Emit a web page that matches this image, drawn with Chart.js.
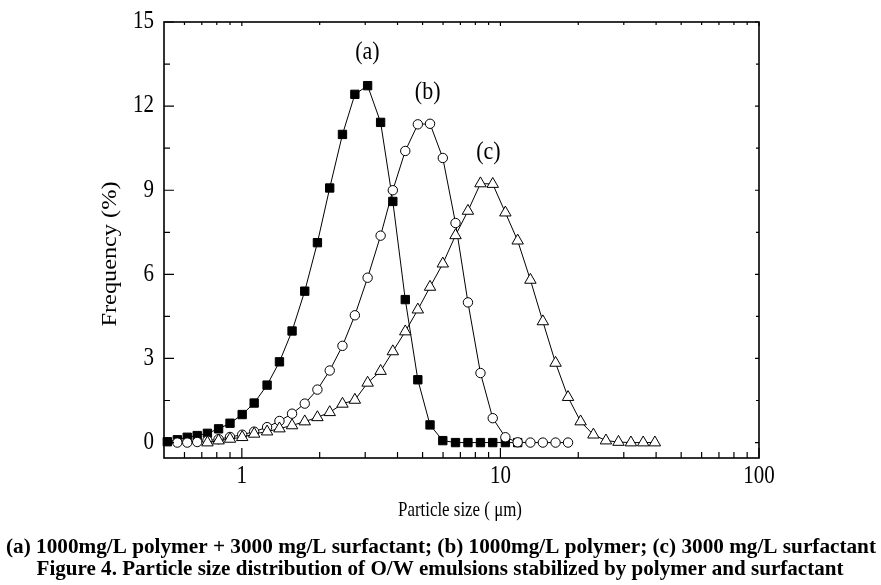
<!DOCTYPE html>
<html lang="en">
  <head>
    <meta charset="UTF-8" />
    <title>Particle size distribution</title>
    <script src="https://cdn.jsdelivr.net/npm/chart.js"></script>
    <style>
      * {
        box-sizing: border-box;
        padding: 0;
        margin: 0;
      }
      body {
        background: #fff;
      }
      .wrap {
        width: 881px;
        height: 585px;
        position: relative;
      }
    </style>
  </head>
  <body>
    <div class="wrap">
      <canvas id="myChart"></canvas>
    </div>
  </body>
  <script>
    // size bins (um), shared by the three curves
    const sizes = [
      0.515, 0.563, 0.615, 0.672, 0.736, 0.813, 0.9, 1.003, 1.116, 1.252,
      1.398, 1.564, 1.751, 1.96, 2.187, 2.45, 2.736, 3.065, 3.441, 3.836,
      4.286, 4.793, 5.343, 5.987, 6.705, 7.489, 8.372, 9.339, 10.45, 11.66,
      13.06, 14.59, 16.34, 18.26, 20.42, 22.89, 25.59, 28.61, 31.96, 35.66,
      39.57,
    ];

    // (a) polymer + surfactant, starts at bin 0
    const startA = 0;
    const freqA = [
      0.03, 0.1, 0.19, 0.25, 0.33, 0.49, 0.69, 1.0, 1.41, 2.05, 2.88, 3.98,
      5.4, 7.13, 9.08, 10.99, 12.42, 12.73, 11.42, 8.6, 5.1, 2.24, 0.63, 0.07,
      0, 0, 0, 0, 0, 0,
    ];
    // (b) polymer, starts at bin 1
    const startB = 1;
    const freqB = [
      0, 0, 0.02, 0.07, 0.12, 0.2, 0.28, 0.39, 0.55, 0.77, 1.03, 1.39, 1.89,
      2.57, 3.45, 4.54, 5.88, 7.38, 9.0, 10.4, 11.35, 11.37, 10.15, 7.83, 5.0,
      2.48, 0.87, 0.19, 0.01, 0, 0, 0, 0,
    ];
    // (c) surfactant, starts at bin 4
    const startC = 4;
    const freqC = [
      0, 0.07, 0.13, 0.19, 0.31, 0.39, 0.5, 0.61, 0.75, 0.9, 1.08, 1.38, 1.52,
      2.13, 2.55, 3.25, 3.96, 4.74, 5.55, 6.38, 7.39, 8.26, 9.24, 9.22, 8.2,
      7.2, 5.8, 4.32, 2.84, 1.62, 0.75, 0.28, 0.07, 0.02, 0, 0, 0,
    ];

    const yTicks = [0, 3, 6, 9, 12, 15];
    const yMinor = [1.5, 4.5, 7.5, 10.5, 13.5];
    const xTicks = [1, 10, 100];
    const xMinor = [
      0.6, 0.7, 0.8, 0.9, 2, 3, 4, 5, 6, 7, 8, 9, 20, 30, 40, 50, 60, 70, 80,
      90,
    ];

    // curve labels, placed in data units
    const notes = [
      { text: "(a)", x: 3.06, y: 13.9 },
      { text: "(b)", x: 5.23, y: 12.5 },
      { text: "(c)", x: 8.99, y: 10.35 },
    ];

    const xTitle = "Particle size ( \u03bcm)";
    const yTitle = "Frequency (%)";
    const caption1 =
      "(a) 1000mg/L polymer + 3000 mg/L surfactant; (b) 1000mg/L polymer; (c) 3000 mg/L surfactant";
    const caption2 =
      "Figure 4. Particle size distribution of O/W emulsions stabilized by polymer and surfactant";

    const toPoints = (vals, start) =>
      vals.map((v, i) => ({ x: sizes[i + start], y: v }));

    const SERIF = '"Liberation Serif", "Times New Roman", serif';
    const STRETCH = 1.15; // the figure is a bit taller than wide

    function text(ctx, s, x, y, size, opts = {}) {
      ctx.save();
      ctx.font = (opts.bold ? "bold " : "") + size + "px " + SERIF;
      ctx.fillStyle = "#000";
      ctx.textAlign = opts.align || "center";
      ctx.textBaseline = "middle";
      ctx.translate(x, y);
      if (opts.rot) {
        ctx.rotate(opts.rot);
        const sx = opts.width ? opts.width / ctx.measureText(s).width : STRETCH;
        ctx.scale(sx, 1);
      } else {
        const sx = opts.width ? opts.width / ctx.measureText(s).width : 1;
        ctx.scale(sx, STRETCH);
      }
      ctx.fillText(s, 0, 0);
      ctx.restore();
    }

    const decor = {
      id: "decor",
      afterDraw(chart) {
        const ctx = chart.ctx;
        const { left, right, top, bottom } = chart.chartArea;
        const xs = chart.scales.x;
        const ys = chart.scales.y;

        ctx.save();
        ctx.strokeStyle = "#000";
        ctx.lineWidth = 1.2;
        ctx.beginPath();
        yTicks.concat(yMinor).forEach((v) => {
          const p = ys.getPixelForValue(v);
          const big = yTicks.includes(v);
          ctx.moveTo(left, p);
          ctx.lineTo(left + (big ? 10 : 6), p);
          ctx.moveTo(right, p);
          ctx.lineTo(right - (big ? 4 : 3), p);
        });
        xTicks.concat(xMinor).forEach((v) => {
          const p = xs.getPixelForValue(v);
          const big = xTicks.includes(v);
          ctx.moveTo(p, bottom);
          ctx.lineTo(p, bottom - (big ? 10 : 6));
          ctx.moveTo(p, top);
          ctx.lineTo(p, top + (big ? 4 : 3));
        });
        ctx.stroke();

        ctx.lineWidth = 1.6;
        ctx.strokeRect(left, top, right - left, bottom - top);
        ctx.restore();

        yTicks.forEach((v) =>
          text(ctx, String(v), left - 10, ys.getPixelForValue(v), 21, {
            align: "right",
          })
        );
        xTicks.forEach((v) =>
          text(ctx, String(v), xs.getPixelForValue(v), bottom + 19, 21)
        );

        notes.forEach((n) =>
          text(ctx, n.text, xs.getPixelForValue(n.x), ys.getPixelForValue(n.y), 22)
        );

        text(ctx, yTitle, 110, 254, 21, { rot: -Math.PI / 2, width: 145 });
        text(ctx, xTitle, 460, 510, 19, { width: 124 });
        text(ctx, caption1, 441, 548, 18, { bold: true, width: 870 });
        text(ctx, caption2, 440, 570, 18, { bold: true, width: 807 });
      },
    };

    const line = {
      borderColor: "#000",
      borderWidth: 1,
      pointBorderColor: "#000",
      pointBorderWidth: 1,
      tension: 0,
      clip: false,
    };

    const ctx = document.getElementById("myChart").getContext("2d");
    const myChart = new Chart(ctx, {
      type: "line",
      data: {
        datasets: [
          {
            ...line,
            label: "(a)",
            data: toPoints(freqA, startA),
            pointStyle: "rect",
            pointRadius: 5.9,
            pointBackgroundColor: "#000",
            order: 3,
          },
          {
            ...line,
            label: "(b)",
            data: toPoints(freqB, startB),
            pointStyle: "circle",
            pointRadius: 4.7,
            pointBackgroundColor: "#fff",
            order: 2,
          },
          {
            ...line,
            label: "(c)",
            data: toPoints(freqC, startC),
            pointStyle: "triangle",
            pointRadius: 6.6,
            pointBackgroundColor: "#fff",
            order: 1,
          },
        ],
      },
      options: {
        responsive: true,
        maintainAspectRatio: false,
        animation: false,
        layout: {
          padding: { left: 164, right: 122, top: 22, bottom: 127 },
        },
        plugins: {
          legend: { display: false },
          tooltip: { enabled: false },
        },
        scales: {
          x: { type: "logarithmic", min: 0.5, max: 100, display: false },
          y: { type: "linear", min: -0.55, max: 15, display: false },
        },
      },
      plugins: [decor],
    });
  </script>
</html>
